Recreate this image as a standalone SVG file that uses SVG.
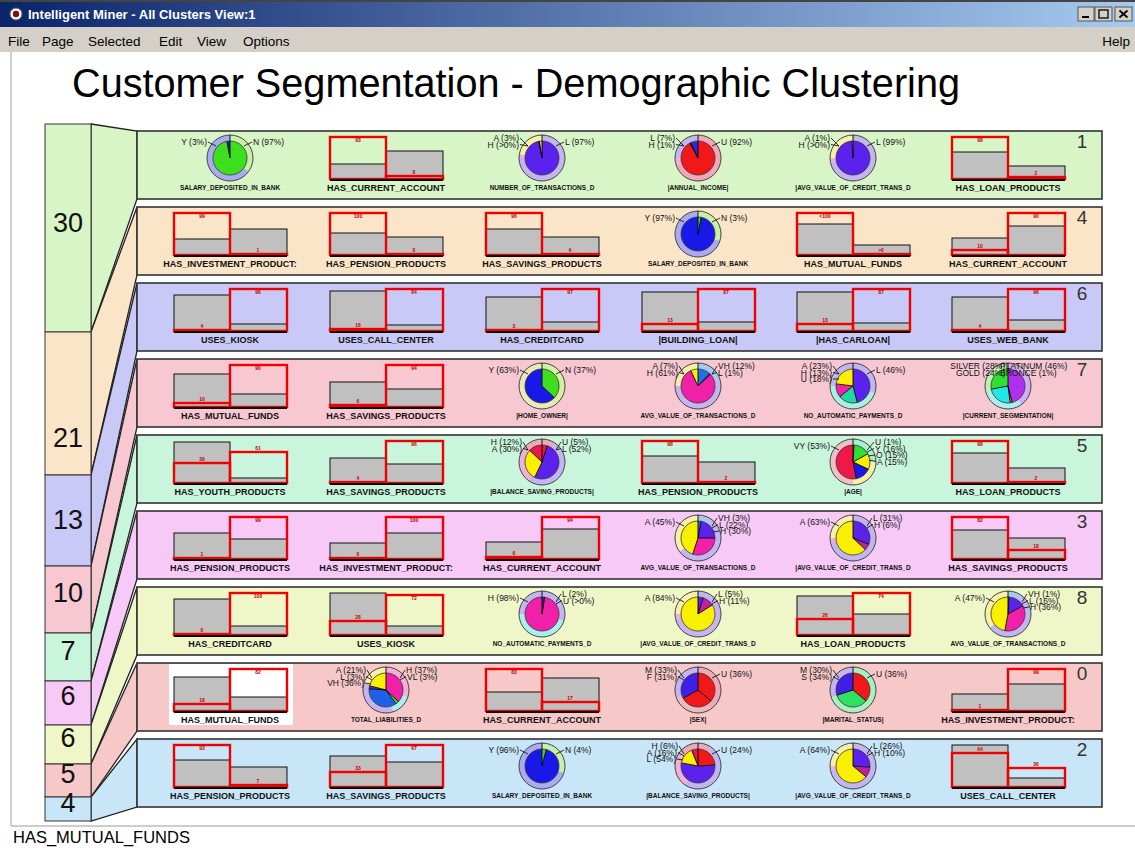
<svg xmlns="http://www.w3.org/2000/svg" xmlns:xlink="http://www.w3.org/1999/xlink" width="1135" height="848" viewBox="0 0 1135 848">
<defs>
<linearGradient id="tb" x1="0" y1="0" x2="1" y2="0"><stop offset="0" stop-color="#0a246a"/><stop offset="1" stop-color="#a6caf0"/></linearGradient>
<g id="po"><circle r="23" fill="none" stroke="#444" stroke-width="1"/><circle r="17" fill="none" stroke="#333" stroke-width="0.8"/><path d="M0 0V-23" stroke="#000" stroke-width="0.9"/></g>
<style>
.g{fill:#c0c0c0;stroke:#111;stroke-width:1}
.r{fill:none;stroke:#ee0000;stroke-width:2.4}
.bs{stroke:#000;stroke-width:2}
.rn{font:bold 5px "Liberation Sans",sans-serif;fill:#c00000;text-anchor:middle}
.bl{font:bold 9px "Liberation Sans",sans-serif;text-anchor:middle;fill:#111}
.pl{font:bold 6.5px "Liberation Sans",sans-serif;text-anchor:middle;fill:#111}
.vl{font:8.5px "Liberation Sans",sans-serif;fill:#111}
.e{text-anchor:end}
.rg{fill:none;stroke-width:6}
.in{fill:none;stroke-width:17}
.dv{stroke:#000;stroke-width:0.8}
.ld{fill:none;stroke:#000;stroke-width:0.8}
.cn{font:19px "Liberation Sans",sans-serif;fill:#333;text-anchor:middle}
.bn{font:27px "Liberation Sans",sans-serif;fill:#111;text-anchor:middle}
.mn{font:13.5px "Liberation Sans",sans-serif;fill:#000}
.tp{stroke:#222;stroke-width:1.3}
.pn{stroke:#333;stroke-width:1.6}
.bx{stroke:#333;stroke-width:1}
</style>
</defs>
<rect width="1135" height="848" fill="#fff"/>
<g id="titlebar">
<rect x="0" y="0" width="1135" height="2" fill="#444"/>
<rect x="0" y="2" width="1135" height="25" fill="url(#tb)"/>
<circle cx="16" cy="14" r="6" fill="#fff" stroke="#666"/><circle cx="16" cy="14" r="3.2" fill="#7a1010"/>
<text x="28" y="19" style="font:bold 13px 'Liberation Sans',sans-serif;fill:#fff">Intelligent Miner - All Clusters View:1</text>
<g fill="#d4d0c8" stroke="#555" stroke-width="1">
<rect x="1078" y="7" width="16" height="14"/><rect x="1095" y="7" width="17" height="14"/><rect x="1115" y="7" width="17" height="14"/></g>
<path d="M1082 17H1089" stroke="#000" stroke-width="2"/>
<rect x="1099" y="10" width="9" height="8" fill="none" stroke="#000" stroke-width="1.3"/>
<path d="M1119.5 10.5L1127.5 17.5M1127.5 10.5L1119.5 17.5" stroke="#000" stroke-width="1.8"/>
</g>
<g id="menubar">
<rect x="0" y="27" width="1135" height="25" fill="#d4d0c8"/>
<text class="mn" x="8" y="46">File</text>
<text class="mn" x="42" y="46">Page</text>
<text class="mn" x="88" y="46">Selected</text>
<text class="mn" x="159" y="46">Edit</text>
<text class="mn" x="197" y="46">View</text>
<text class="mn" x="243" y="46">Options</text>
<text class="mn" x="1130" y="46" text-anchor="end">Help</text>
</g>
<path d="M11 52V826" stroke="#cfcfcf" stroke-width="2"/>
<path d="M11 826H1135" stroke="#bdbdbd" stroke-width="1.5"/>
<text x="13" y="843" style="font:16.5px 'Liberation Sans',sans-serif;fill:#000">HAS_MUTUAL_FUNDS</text>
<text x="72" y="97" textLength="888" lengthAdjust="spacingAndGlyphs" style="font:40px 'Liberation Sans',sans-serif;fill:#000">Customer Segmentation - Demographic Clustering</text>

<g id="connectors">
<polygon class="tp" fill="#d7f5c6" points="91,124 137,131 137,199 91,332"/>
<polygon class="tp" fill="#fbe5c8" points="91,332 137,207 137,275 91,475"/>
<polygon class="tp" fill="#c9c9f7" points="91,475 137,283 137,351 91,566"/>
<polygon class="tp" fill="#f7c8d2" points="91,566 137,359 137,427 91,633"/>
<polygon class="tp" fill="#c9f5dc" points="91,633 137,435 137,503 91,681"/>
<polygon class="tp" fill="#f6c9f6" points="91,681 137,511 137,579 91,725"/>
<polygon class="tp" fill="#eff7c8" points="91,725 137,587 137,655 91,764"/>
<polygon class="tp" fill="#f7c8c8" points="91,764 137,663 137,731 91,797"/>
<polygon class="tp" fill="#c8e6f7" points="91,797 137,739 137,807 91,821"/>
</g>

<g id="size-boxes">
<g id="s30"><rect class="bx" x="45" y="124" width="46" height="208" fill="#d7f5c6"/><text class="bn" x="68" y="232">30</text></g>
<g id="s21"><rect class="bx" x="45" y="332" width="46" height="143" fill="#fbe5c8"/><text class="bn" x="68" y="447">21</text></g>
<g id="s13"><rect class="bx" x="45" y="475" width="46" height="91" fill="#c9c9f7"/><text class="bn" x="68" y="529">13</text></g>
<g id="s10"><rect class="bx" x="45" y="566" width="46" height="67" fill="#f7c8d2"/><text class="bn" x="68" y="602">10</text></g>
<g id="s7"><rect class="bx" x="45" y="633" width="46" height="48" fill="#c9f5dc"/><text class="bn" x="68" y="660">7</text></g>
<g id="s6a"><rect class="bx" x="45" y="681" width="46" height="44" fill="#f6c9f6"/><text class="bn" x="68" y="705">6</text></g>
<g id="s6b"><rect class="bx" x="45" y="725" width="46" height="39" fill="#eff7c8"/><text class="bn" x="68" y="747">6</text></g>
<g id="s5"><rect class="bx" x="45" y="764" width="46" height="33" fill="#f7c8c8"/><text class="bn" x="68" y="783">5</text></g>
<g id="s4"><rect class="bx" x="45" y="797" width="46" height="24" fill="#c8e6f7"/><text class="bn" x="68" y="812">4</text></g>
</g>

<g id="panels">
<rect class="pn" x="137" y="131" width="965" height="68" fill="#d7f5c6"/><text class="cn" x="1082" y="148">1</text>
<rect class="pn" x="137" y="207" width="965" height="68" fill="#fbe5c8"/><text class="cn" x="1082" y="224">4</text>
<rect class="pn" x="137" y="283" width="965" height="68" fill="#c9c9f7"/><text class="cn" x="1082" y="300">6</text>
<rect class="pn" x="137" y="359" width="965" height="68" fill="#f7c8d2"/><text class="cn" x="1082" y="376">7</text>
<rect class="pn" x="137" y="435" width="965" height="68" fill="#c9f5dc"/><text class="cn" x="1082" y="452">5</text>
<rect class="pn" x="137" y="511" width="965" height="68" fill="#f6c9f6"/><text class="cn" x="1082" y="528">3</text>
<rect class="pn" x="137" y="587" width="965" height="68" fill="#eff7c8"/><text class="cn" x="1082" y="604">8</text>
<rect class="pn" x="137" y="663" width="965" height="68" fill="#f7c8c8"/><text class="cn" x="1082" y="680">0</text>
<rect class="pn" x="137" y="739" width="965" height="68" fill="#c8e6f7"/><text class="cn" x="1082" y="756">2</text>
<rect x="169" y="664" width="124" height="61" fill="#fff"/>
</g>

<g id="b1-2" transform="translate(330,179)"><rect class="g" y="-15" width="56" height="15"/><rect class="g" x="56" y="-28" width="57" height="28"/><rect class="r" y="-42" width="56" height="42"/><rect class="r" x="56" y="-3" width="57" height="3"/><path class="bs" d="M0 1H113"/><text class="rn" x="28" y="-37">93</text><text class="rn" x="84" y="-5">8</text><text class="bl" x="56" y="12">HAS_CURRENT_ACCOUNT</text></g>
<g id="b1-6" transform="translate(952,179)"><rect class="g" y="-27" width="56" height="27"/><rect class="g" x="56" y="-13" width="57" height="13"/><rect class="r" y="-42" width="56" height="42"/><rect class="r" x="56" y="-2" width="57" height="2"/><path class="bs" d="M0 1H113"/><text class="rn" x="28" y="-37">98</text><text class="rn" x="84" y="-4">2</text><text class="bl" x="56" y="12">HAS_LOAN_PRODUCTS</text></g>

<g id="b2-1" transform="translate(174,255)"><rect class="g" y="-16" width="56" height="16"/><rect class="g" x="56" y="-26" width="57" height="26"/><rect class="r" y="-42" width="56" height="42"/><rect class="r" x="56" y="-1" width="57" height="1"/><path class="bs" d="M0 1H113"/><text class="rn" x="28" y="-37">99</text><text class="rn" x="84" y="-3">1</text><text class="bl" x="56" y="12">HAS_INVESTMENT_PRODUCT:</text></g>
<g id="b2-2" transform="translate(330,255)"><rect class="g" y="-22" width="56" height="22"/><rect class="g" x="56" y="-18" width="57" height="18"/><rect class="r" y="-42" width="56" height="42"/><rect class="r" x="56" y="-1" width="57" height="1"/><path class="bs" d="M0 1H113"/><text class="rn" x="28" y="-37">100</text><text class="rn" x="84" y="-3">0</text><text class="bl" x="56" y="12">HAS_PENSION_PRODUCTS</text></g>
<g id="b2-3" transform="translate(486,255)"><rect class="g" y="-26" width="56" height="26"/><rect class="g" x="56" y="-18" width="57" height="18"/><rect class="r" y="-42" width="56" height="42"/><rect class="r" x="56" y="-1" width="57" height="1"/><path class="bs" d="M0 1H113"/><text class="rn" x="28" y="-37">96</text><text class="rn" x="84" y="-3">4</text><text class="bl" x="56" y="12">HAS_SAVINGS_PRODUCTS</text></g>
<g id="b2-5" transform="translate(797,255)"><rect class="g" y="-31" width="56" height="31"/><rect class="g" x="56" y="-10" width="57" height="10"/><rect class="r" y="-42" width="56" height="42"/><rect class="r" x="56" y="-1" width="57" height="1"/><path class="bs" d="M0 1H113"/><text class="rn" x="28" y="-37">&lt;100</text><text class="rn" x="84" y="-3">&gt;0</text><text class="bl" x="56" y="12">HAS_MUTUAL_FUNDS</text></g>
<g id="b2-6" transform="translate(952,255)"><rect class="g" y="-17" width="56" height="17"/><rect class="g" x="56" y="-29" width="57" height="29"/><rect class="r" y="-5" width="56" height="5"/><rect class="r" x="56" y="-42" width="57" height="42"/><path class="bs" d="M0 1H113"/><text class="rn" x="28" y="-7">10</text><text class="rn" x="84" y="-37">90</text><text class="bl" x="56" y="12">HAS_CURRENT_ACCOUNT</text></g>

<g id="b3-1" transform="translate(174,331)"><rect class="g" y="-36" width="56" height="36"/><rect class="g" x="56" y="-7" width="57" height="7"/><rect class="r" y="-1" width="56" height="1"/><rect class="r" x="56" y="-42" width="57" height="42"/><path class="bs" d="M0 1H113"/><text class="rn" x="28" y="-3">4</text><text class="rn" x="84" y="-37">96</text><text class="bl" x="56" y="12">USES_KIOSK</text></g>
<g id="b3-2" transform="translate(330,331)"><rect class="g" y="-40" width="56" height="40"/><rect class="g" x="56" y="-6" width="57" height="6"/><rect class="r" y="-2" width="56" height="2"/><rect class="r" x="56" y="-42" width="57" height="42"/><path class="bs" d="M0 1H113"/><text class="rn" x="28" y="-4">16</text><text class="rn" x="84" y="-37">84</text><text class="bl" x="56" y="12">USES_CALL_CENTER</text></g>
<g id="b3-3" transform="translate(486,331)"><rect class="g" y="-34" width="56" height="34"/><rect class="g" x="56" y="-9" width="57" height="9"/><rect class="r" y="-1" width="56" height="1"/><rect class="r" x="56" y="-42" width="57" height="42"/><path class="bs" d="M0 1H113"/><text class="rn" x="28" y="-3">3</text><text class="rn" x="84" y="-37">97</text><text class="bl" x="56" y="12">HAS_CREDITCARD</text></g>
<g id="b3-4" transform="translate(642,331)"><rect class="g" y="-39" width="56" height="39"/><rect class="g" x="56" y="-9" width="57" height="9"/><rect class="r" y="-7" width="56" height="7"/><rect class="r" x="56" y="-42" width="57" height="42"/><path class="bs" d="M0 1H113"/><text class="rn" x="28" y="-9">13</text><text class="rn" x="84" y="-37">87</text><text class="bl" x="56" y="12">|BUILDING_LOAN|</text></g>
<g id="b3-5" transform="translate(797,331)"><rect class="g" y="-39" width="56" height="39"/><rect class="g" x="56" y="-8" width="57" height="8"/><rect class="r" y="-7" width="56" height="7"/><rect class="r" x="56" y="-42" width="57" height="42"/><path class="bs" d="M0 1H113"/><text class="rn" x="28" y="-9">13</text><text class="rn" x="84" y="-37">87</text><text class="bl" x="56" y="12">|HAS_CARLOAN|</text></g>
<g id="b3-6" transform="translate(952,331)"><rect class="g" y="-34" width="56" height="34"/><rect class="g" x="56" y="-11" width="57" height="11"/><rect class="r" y="-1" width="56" height="1"/><rect class="r" x="56" y="-42" width="57" height="42"/><path class="bs" d="M0 1H113"/><text class="rn" x="28" y="-3">4</text><text class="rn" x="84" y="-37">96</text><text class="bl" x="56" y="12">USES_WEB_BANK</text></g>

<g id="b4-1" transform="translate(174,407)"><rect class="g" y="-33" width="56" height="33"/><rect class="g" x="56" y="-13" width="57" height="13"/><rect class="r" y="-4" width="56" height="4"/><rect class="r" x="56" y="-42" width="57" height="42"/><path class="bs" d="M0 1H113"/><text class="rn" x="28" y="-6">10</text><text class="rn" x="84" y="-37">90</text><text class="bl" x="56" y="12">HAS_MUTUAL_FUNDS</text></g>
<g id="b4-2" transform="translate(330,407)"><rect class="g" y="-25" width="56" height="25"/><rect class="g" x="56" y="-18" width="57" height="18"/><rect class="r" y="-2" width="56" height="2"/><rect class="r" x="56" y="-42" width="57" height="42"/><path class="bs" d="M0 1H113"/><text class="rn" x="28" y="-4">6</text><text class="rn" x="84" y="-37">94</text><text class="bl" x="56" y="12">HAS_SAVINGS_PRODUCTS</text></g>

<g id="b5-1" transform="translate(174,483)"><rect class="g" y="-41" width="56" height="41"/><rect class="g" x="56" y="-5" width="57" height="5"/><rect class="r" y="-20" width="56" height="20"/><rect class="r" x="56" y="-31" width="57" height="31"/><path class="bs" d="M0 1H113"/><text class="rn" x="28" y="-22">39</text><text class="rn" x="84" y="-33">61</text><text class="bl" x="56" y="12">HAS_YOUTH_PRODUCTS</text></g>
<g id="b5-2" transform="translate(330,483)"><rect class="g" y="-25" width="56" height="25"/><rect class="g" x="56" y="-19" width="57" height="19"/><rect class="r" y="-1" width="56" height="1"/><rect class="r" x="56" y="-42" width="57" height="42"/><path class="bs" d="M0 1H113"/><text class="rn" x="28" y="-3">4</text><text class="rn" x="84" y="-37">96</text><text class="bl" x="56" y="12">HAS_SAVINGS_PRODUCTS</text></g>
<g id="b5-4" transform="translate(642,483)"><rect class="g" y="-27" width="56" height="27"/><rect class="g" x="56" y="-21" width="57" height="21"/><rect class="r" y="-42" width="56" height="42"/><rect class="r" x="56" y="-1" width="57" height="1"/><path class="bs" d="M0 1H113"/><text class="rn" x="28" y="-37">98</text><text class="rn" x="84" y="-3">2</text><text class="bl" x="56" y="12">HAS_PENSION_PRODUCTS</text></g>
<g id="b5-6" transform="translate(952,483)"><rect class="g" y="-30" width="56" height="30"/><rect class="g" x="56" y="-15" width="57" height="15"/><rect class="r" y="-42" width="56" height="42"/><rect class="r" x="56" y="-1" width="57" height="1"/><path class="bs" d="M0 1H113"/><text class="rn" x="28" y="-37">98</text><text class="rn" x="84" y="-3">2</text><text class="bl" x="56" y="12">HAS_LOAN_PRODUCTS</text></g>

<g id="b6-1" transform="translate(174,559)"><rect class="g" y="-26" width="56" height="26"/><rect class="g" x="56" y="-20" width="57" height="20"/><rect class="r" y="-1" width="56" height="1"/><rect class="r" x="56" y="-42" width="57" height="42"/><path class="bs" d="M0 1H113"/><text class="rn" x="28" y="-3">1</text><text class="rn" x="84" y="-37">99</text><text class="bl" x="56" y="12">HAS_PENSION_PRODUCTS</text></g>
<g id="b6-2" transform="translate(330,559)"><rect class="g" y="-16" width="56" height="16"/><rect class="g" x="56" y="-26" width="57" height="26"/><rect class="r" y="-1" width="56" height="1"/><rect class="r" x="56" y="-42" width="57" height="42"/><path class="bs" d="M0 1H113"/><text class="rn" x="28" y="-3">0</text><text class="rn" x="84" y="-37">100</text><text class="bl" x="56" y="12">HAS_INVESTMENT_PRODUCT:</text></g>
<g id="b6-3" transform="translate(486,559)"><rect class="g" y="-17" width="56" height="17"/><rect class="g" x="56" y="-30" width="57" height="30"/><rect class="r" y="-2" width="56" height="2"/><rect class="r" x="56" y="-42" width="57" height="42"/><path class="bs" d="M0 1H113"/><text class="rn" x="28" y="-4">6</text><text class="rn" x="84" y="-37">94</text><text class="bl" x="56" y="12">HAS_CURRENT_ACCOUNT</text></g>
<g id="b6-6" transform="translate(952,559)"><rect class="g" y="-29" width="56" height="29"/><rect class="g" x="56" y="-21" width="57" height="21"/><rect class="r" y="-42" width="56" height="42"/><rect class="r" x="56" y="-9" width="57" height="9"/><path class="bs" d="M0 1H113"/><text class="rn" x="28" y="-37">82</text><text class="rn" x="84" y="-11">18</text><text class="bl" x="56" y="12">HAS_SAVINGS_PRODUCTS</text></g>

<g id="b7-1" transform="translate(174,635)"><rect class="g" y="-36" width="56" height="36"/><rect class="g" x="56" y="-9" width="57" height="9"/><rect class="r" y="-1" width="56" height="1"/><rect class="r" x="56" y="-42" width="57" height="42"/><path class="bs" d="M0 1H113"/><text class="rn" x="28" y="-3">0</text><text class="rn" x="84" y="-37">100</text><text class="bl" x="56" y="12">HAS_CREDITCARD</text></g>
<g id="b7-2" transform="translate(330,635)"><rect class="g" y="-42" width="56" height="42"/><rect class="g" x="56" y="-9" width="57" height="9"/><rect class="r" y="-14" width="56" height="14"/><rect class="r" x="56" y="-40" width="57" height="40"/><path class="bs" d="M0 1H113"/><text class="rn" x="28" y="-16">28</text><text class="rn" x="84" y="-35">72</text><text class="bl" x="56" y="12">USES_KIOSK</text></g>
<g id="b7-5" transform="translate(797,635)"><rect class="g" y="-39" width="56" height="39"/><rect class="g" x="56" y="-21" width="57" height="21"/><rect class="r" y="-16" width="56" height="16"/><rect class="r" x="56" y="-42" width="57" height="42"/><path class="bs" d="M0 1H113"/><text class="rn" x="28" y="-18">26</text><text class="rn" x="84" y="-37">74</text><text class="bl" x="56" y="12">HAS_LOAN_PRODUCTS</text></g>

<g id="b8-1" transform="translate(174,711)"><rect class="g" y="-34" width="56" height="34"/><rect class="g" x="56" y="-14" width="57" height="14"/><rect class="r" y="-7" width="56" height="7"/><rect class="r" x="56" y="-42" width="57" height="42"/><path class="bs" d="M0 1H113"/><text class="rn" x="28" y="-9">18</text><text class="rn" x="84" y="-37">82</text><text class="bl" x="56" y="12">HAS_MUTUAL_FUNDS</text></g>
<g id="b8-3" transform="translate(486,711)"><rect class="g" y="-19" width="56" height="19"/><rect class="g" x="56" y="-33" width="57" height="33"/><rect class="r" y="-42" width="56" height="42"/><rect class="r" x="56" y="-9" width="57" height="9"/><path class="bs" d="M0 1H113"/><text class="rn" x="28" y="-37">83</text><text class="rn" x="84" y="-11">17</text><text class="bl" x="56" y="12">HAS_CURRENT_ACCOUNT</text></g>
<g id="b8-6" transform="translate(952,711)"><rect class="g" y="-17" width="56" height="17"/><rect class="g" x="56" y="-27" width="57" height="27"/><rect class="r" y="-1" width="56" height="1"/><rect class="r" x="56" y="-42" width="57" height="42"/><path class="bs" d="M0 1H113"/><text class="rn" x="28" y="-3">1</text><text class="rn" x="84" y="-37">99</text><text class="bl" x="56" y="12">HAS_INVESTMENT_PRODUCT:</text></g>

<g id="b9-1" transform="translate(174,787)"><rect class="g" y="-27" width="56" height="27"/><rect class="g" x="56" y="-20" width="57" height="20"/><rect class="r" y="-42" width="56" height="42"/><rect class="r" x="56" y="-2" width="57" height="2"/><path class="bs" d="M0 1H113"/><text class="rn" x="28" y="-37">93</text><text class="rn" x="84" y="-4">7</text><text class="bl" x="56" y="12">HAS_PENSION_PRODUCTS</text></g>
<g id="b9-2" transform="translate(330,787)"><rect class="g" y="-31" width="56" height="31"/><rect class="g" x="56" y="-25" width="57" height="25"/><rect class="r" y="-15" width="56" height="15"/><rect class="r" x="56" y="-42" width="57" height="42"/><path class="bs" d="M0 1H113"/><text class="rn" x="28" y="-17">33</text><text class="rn" x="84" y="-37">67</text><text class="bl" x="56" y="12">HAS_SAVINGS_PRODUCTS</text></g>
<g id="b9-6" transform="translate(952,787)"><rect class="g" y="-42" width="56" height="42"/><rect class="g" x="56" y="-9" width="57" height="9"/><rect class="r" y="-34" width="56" height="34"/><rect class="r" x="56" y="-19" width="57" height="19"/><path class="bs" d="M0 1H113"/><text class="rn" x="28" y="-36">64</text><text class="rn" x="84" y="-21">36</text><text class="bl" x="56" y="12">USES_CALL_CENTER</text></g>

<g id="p1-1" transform="translate(230,158)">
<g transform="rotate(-90)"><circle r="20" class="rg" pathLength="100" stroke="#c8f0a8" stroke-dasharray="35 100"/><circle r="20" class="rg" pathLength="100" stroke="#aaaaf0" stroke-dasharray="65 100" stroke-dashoffset="-35"/><circle r="8.5" class="in" pathLength="100" stroke="#3ee01e" stroke-dasharray="97 100"/><circle r="8.5" class="in" pathLength="100" stroke="#1818e8" stroke-dasharray="3 100" stroke-dashoffset="-97"/></g>
<use href="#po"/><path class="dv" d="M0 0V-17" transform="rotate(349.2)"/>
<text class="vl e" x="-23" y="-13">Y (3%)</text><text class="vl" x="23" y="-13">N (97%)</text>
<path class="ld" d="M-22 -16L-14 -12M22 -16L14 -12"/>
<text class="pl" y="32">SALARY_DEPOSITED_IN_BANK</text></g>

<g id="p1-3" transform="translate(542,158)">
<g transform="rotate(-90)"><circle r="20" class="rg" pathLength="100" stroke="#c4b4f0" stroke-dasharray="75 100"/><circle r="20" class="rg" pathLength="100" stroke="#f0b0d8" stroke-dasharray="3 100" stroke-dashoffset="-75"/><circle r="20" class="rg" pathLength="100" stroke="#f8f0a8" stroke-dasharray="22 100" stroke-dashoffset="-78"/><circle r="8.5" class="in" pathLength="100" stroke="#5a22ec" stroke-dasharray="97 100"/><circle r="8.5" class="in" pathLength="100" stroke="#f020a0" stroke-dasharray="0.5 100" stroke-dashoffset="-97"/><circle r="8.5" class="in" pathLength="100" stroke="#f8f000" stroke-dasharray="2.5 100" stroke-dashoffset="-97.5"/></g>
<use href="#po"/><path class="dv" d="M0 0V-17" transform="rotate(349.2)"/><path class="dv" d="M0 0V-17" transform="rotate(351)"/>
<text class="vl e" x="-23" y="-17">A (3%)</text><text class="vl e" x="-23" y="-10.5">H (&gt;0%)</text><text class="vl" x="23" y="-13">L (97%)</text>
<path class="ld" d="M-22 -20L-14 -12M-22 -13.5L-14 -12M22 -16L14 -12"/>
<text class="pl" y="32">NUMBER_OF_TRANSACTIONS_D</text></g>

<g id="p1-4" transform="translate(698,158)">
<g transform="rotate(-90)"><circle r="20" class="rg" pathLength="100" stroke="#f0a8b8" stroke-dasharray="70 100"/><circle r="20" class="rg" pathLength="100" stroke="#f0b0d8" stroke-dasharray="5 100" stroke-dashoffset="-70"/><circle r="20" class="rg" pathLength="100" stroke="#c4b4f0" stroke-dasharray="25 100" stroke-dashoffset="-75"/><circle r="8.5" class="in" pathLength="100" stroke="#f01818" stroke-dasharray="92 100"/><circle r="8.5" class="in" pathLength="100" stroke="#f020a0" stroke-dasharray="1 100" stroke-dashoffset="-92"/><circle r="8.5" class="in" pathLength="100" stroke="#2828e8" stroke-dasharray="7 100" stroke-dashoffset="-93"/></g>
<use href="#po"/><path class="dv" d="M0 0V-17" transform="rotate(331.2)"/><path class="dv" d="M0 0V-17" transform="rotate(334.8)"/>
<text class="vl e" x="-23" y="-17">L (7%)</text><text class="vl e" x="-23" y="-10.5">H (1%)</text><text class="vl" x="23" y="-13">U (92%)</text>
<path class="ld" d="M-22 -20L-14 -12M-22 -13.5L-14 -12M22 -16L14 -12"/>
<text class="pl" y="32">|ANNUAL_INCOME|</text></g>

<g id="p1-5" transform="translate(853,158)">
<g transform="rotate(-90)"><circle r="20" class="rg" pathLength="100" stroke="#c4b4f0" stroke-dasharray="72 100"/><circle r="20" class="rg" pathLength="100" stroke="#f0b0d8" stroke-dasharray="3 100" stroke-dashoffset="-72"/><circle r="20" class="rg" pathLength="100" stroke="#f8f0a8" stroke-dasharray="25 100" stroke-dashoffset="-75"/><circle r="8.5" class="in" pathLength="100" stroke="#5a22ec" stroke-dasharray="99 100"/><circle r="8.5" class="in" pathLength="100" stroke="#f8f000" stroke-dasharray="1 100" stroke-dashoffset="-99"/></g>
<use href="#po"/><path class="dv" d="M0 0V-17" transform="rotate(356.4)"/>
<text class="vl e" x="-23" y="-17">A (1%)</text><text class="vl e" x="-23" y="-10.5">H (&gt;0%)</text><text class="vl" x="23" y="-13">L (99%)</text>
<path class="ld" d="M-22 -20L-14 -12M-22 -13.5L-14 -12M22 -16L14 -12"/>
<text class="pl" y="32">|AVG_VALUE_OF_CREDIT_TRANS_D</text></g>

<g id="p2-4" transform="translate(698,234)">
<g transform="rotate(-90)"><circle r="20" class="rg" pathLength="100" stroke="#c8f0a8" stroke-dasharray="30 100"/><circle r="20" class="rg" pathLength="100" stroke="#aaaaf0" stroke-dasharray="70 100" stroke-dashoffset="-30"/><circle r="8.5" class="in" pathLength="100" stroke="#3ee01e" stroke-dasharray="3 100"/><circle r="8.5" class="in" pathLength="100" stroke="#1818e8" stroke-dasharray="97 100" stroke-dashoffset="-3"/></g>
<use href="#po"/><path class="dv" d="M0 0V-17" transform="rotate(10.8)"/>
<text class="vl e" x="-23" y="-13">Y (97%)</text><text class="vl" x="23" y="-13">N (3%)</text>
<path class="ld" d="M-22 -16L-14 -12M22 -16L14 -12"/>
<text class="pl" y="32">SALARY_DEPOSITED_IN_BANK</text></g>

<g id="p4-3" transform="translate(542,386)">
<g transform="rotate(-90)"><circle r="20" class="rg" pathLength="100" stroke="#d4f0a0" stroke-dasharray="40 100"/><circle r="20" class="rg" pathLength="100" stroke="#e8ecb4" stroke-dasharray="60 100" stroke-dashoffset="-40"/><circle r="8.5" class="in" pathLength="100" stroke="#3ee01e" stroke-dasharray="37 100"/><circle r="8.5" class="in" pathLength="100" stroke="#1818e8" stroke-dasharray="63 100" stroke-dashoffset="-37"/></g>
<use href="#po"/><path class="dv" d="M0 0V-17" transform="rotate(133.2)"/>
<text class="vl e" x="-23" y="-13">Y (63%)</text><text class="vl" x="23" y="-13">N (37%)</text>
<path class="ld" d="M-22 -16L-14 -12M22 -16L14 -12"/>
<text class="pl" y="32">|HOME_OWNER|</text></g>

<g id="p4-4" transform="translate(698,386)">
<g transform="rotate(-90)"><circle r="20" class="rg" pathLength="100" stroke="#a8c8f0" stroke-dasharray="20 100"/><circle r="20" class="rg" pathLength="100" stroke="#c4b4f0" stroke-dasharray="55 100" stroke-dashoffset="-20"/><circle r="20" class="rg" pathLength="100" stroke="#f8f0a8" stroke-dasharray="25 100" stroke-dashoffset="-75"/><circle r="8.5" class="in" pathLength="100" stroke="#2070e8" stroke-dasharray="12 100"/><circle r="8.5" class="in" pathLength="100" stroke="#5a22ec" stroke-dasharray="1 100" stroke-dashoffset="-12"/><circle r="8.5" class="in" pathLength="100" stroke="#f020a8" stroke-dasharray="80 100" stroke-dashoffset="-13"/><circle r="8.5" class="in" pathLength="100" stroke="#f8f000" stroke-dasharray="7 100" stroke-dashoffset="-93"/></g>
<use href="#po"/><path class="dv" d="M0 0V-17" transform="rotate(43.2)"/><path class="dv" d="M0 0V-17" transform="rotate(46.8)"/><path class="dv" d="M0 0V-17" transform="rotate(334.8)"/>
<text class="vl e" x="-20" y="-17">A (7%)</text><text class="vl e" x="-20" y="-10.5">H (61%)</text><text class="vl" x="20" y="-17">VH (12%)</text><text class="vl" x="20" y="-10.5">L (1%)</text>
<path class="ld" d="M-19 -20L-14 -12M-19 -13.5L-14 -12M19 -20L14 -12M19 -13.5L14 -12"/>
<text class="pl" y="32">AVG_VALUE_OF_TRANSACTIONS_D</text></g>

<g id="p4-5" transform="translate(853,386)">
<g transform="rotate(-90)"><circle r="20" class="rg" pathLength="100" stroke="#c4b4f0" stroke-dasharray="30 100"/><circle r="20" class="rg" pathLength="100" stroke="#a8f0e0" stroke-dasharray="45 100" stroke-dashoffset="-30"/><circle r="20" class="rg" pathLength="100" stroke="#c4b4f0" stroke-dasharray="25 100" stroke-dashoffset="-75"/><circle r="8.5" class="in" pathLength="100" stroke="#5a22ec" stroke-dasharray="46 100"/><circle r="8.5" class="in" pathLength="100" stroke="#20d8a0" stroke-dasharray="18 100" stroke-dashoffset="-46"/><circle r="8.5" class="in" pathLength="100" stroke="#f020a8" stroke-dasharray="13 100" stroke-dashoffset="-64"/><circle r="8.5" class="in" pathLength="100" stroke="#f8f000" stroke-dasharray="23 100" stroke-dashoffset="-77"/></g>
<use href="#po"/><path class="dv" d="M0 0V-17" transform="rotate(165.6)"/><path class="dv" d="M0 0V-17" transform="rotate(230.4)"/><path class="dv" d="M0 0V-17" transform="rotate(277.2)"/>
<text class="vl e" x="-21" y="-17">A (23%)</text><text class="vl e" x="-21" y="-10.5">H (13%)</text><text class="vl e" x="-21" y="-4">U (18%)</text><text class="vl" x="23" y="-13">L (46%)</text>
<path class="ld" d="M-20 -20L-14 -12M-20 -13.5L-14 -12M-20 -7L-14 -7M22 -16L14 -12"/>
<text class="pl" y="32">NO_AUTOMATIC_PAYMENTS_D</text></g>

<g id="p4-6" transform="translate(1008,386)">
<g transform="rotate(-90)"><circle r="20" class="rg" pathLength="100" stroke="#d0b0f0" stroke-dasharray="40 100"/><circle r="20" class="rg" pathLength="100" stroke="#a8f0f0" stroke-dasharray="30 100" stroke-dashoffset="-40"/><circle r="20" class="rg" pathLength="100" stroke="#c0f0b0" stroke-dasharray="30 100" stroke-dashoffset="-70"/><circle r="8.5" class="in" pathLength="100" stroke="#b030f0" stroke-dasharray="46 100"/><circle r="8.5" class="in" pathLength="100" stroke="#f07010" stroke-dasharray="2 100" stroke-dashoffset="-46"/><circle r="8.5" class="in" pathLength="100" stroke="#20e8e8" stroke-dasharray="24 100" stroke-dashoffset="-48"/><circle r="8.5" class="in" pathLength="100" stroke="#30e030" stroke-dasharray="28 100" stroke-dashoffset="-72"/></g>
<use href="#po"/><path class="dv" d="M0 0V-17" transform="rotate(165.6)"/><path class="dv" d="M0 0V-17" transform="rotate(172.8)"/><path class="dv" d="M0 0V-17" transform="rotate(259.2)"/>
<text class="vl e" x="-3" y="-17">SILVER (28%)</text><text class="vl e" x="-3" y="-10.5">GOLD (24%)</text><text class="vl" x="-8" y="-17">PLATINUM (46%)</text><text class="vl" x="-8" y="-10.5">BRONCE (1%)</text>
<text class="pl" y="32">|CURRENT_SEGMENTATION|</text></g>

<g id="p5-3" transform="translate(542,462)">
<g transform="rotate(-90)"><circle r="20" class="rg" pathLength="100" stroke="#f0a8b8" stroke-dasharray="10 100"/><circle r="20" class="rg" pathLength="100" stroke="#c4b4f0" stroke-dasharray="50 100" stroke-dashoffset="-10"/><circle r="20" class="rg" pathLength="100" stroke="#f0b0d8" stroke-dasharray="25 100" stroke-dashoffset="-60"/><circle r="20" class="rg" pathLength="100" stroke="#f0a8b8" stroke-dasharray="15 100" stroke-dashoffset="-85"/><circle r="8.5" class="in" pathLength="100" stroke="#f01818" stroke-dasharray="5 100"/><circle r="8.5" class="in" pathLength="100" stroke="#5a22ec" stroke-dasharray="52 100" stroke-dashoffset="-5"/><circle r="8.5" class="in" pathLength="100" stroke="#f8f000" stroke-dasharray="30 100" stroke-dashoffset="-57"/><circle r="8.5" class="in" pathLength="100" stroke="#e81850" stroke-dasharray="13 100" stroke-dashoffset="-87"/></g>
<use href="#po"/><path class="dv" d="M0 0V-17" transform="rotate(18)"/><path class="dv" d="M0 0V-17" transform="rotate(205.2)"/><path class="dv" d="M0 0V-17" transform="rotate(313.2)"/>
<text class="vl e" x="-20" y="-17">H (12%)</text><text class="vl e" x="-20" y="-10.5">A (30%)</text><text class="vl" x="20" y="-17">U (5%)</text><text class="vl" x="20" y="-10.5">L (52%)</text>
<path class="ld" d="M-19 -20L-14 -12M-19 -13.5L-14 -12M19 -20L14 -12M19 -13.5L14 -12"/>
<text class="pl" y="32">|BALANCE_SAVING_PRODUCTS|</text></g>

<g id="p5-5" transform="translate(853,462)">
<g transform="rotate(-90)"><circle r="20" class="rg" pathLength="100" stroke="#a8f0d0" stroke-dasharray="25 100"/><circle r="20" class="rg" pathLength="100" stroke="#f8f0a8" stroke-dasharray="25 100" stroke-dashoffset="-25"/><circle r="20" class="rg" pathLength="100" stroke="#f0c0c8" stroke-dasharray="50 100" stroke-dashoffset="-50"/><circle r="8.5" class="in" pathLength="100" stroke="#2070e8" stroke-dasharray="1 100"/><circle r="8.5" class="in" pathLength="100" stroke="#30e030" stroke-dasharray="16 100" stroke-dashoffset="-1"/><circle r="8.5" class="in" pathLength="100" stroke="#f8f000" stroke-dasharray="15 100" stroke-dashoffset="-17"/><circle r="8.5" class="in" pathLength="100" stroke="#1818e8" stroke-dasharray="15 100" stroke-dashoffset="-32"/><circle r="8.5" class="in" pathLength="100" stroke="#f01848" stroke-dasharray="53 100" stroke-dashoffset="-47"/></g>
<use href="#po"/><path class="dv" d="M0 0V-17" transform="rotate(3.6)"/><path class="dv" d="M0 0V-17" transform="rotate(61.2)"/><path class="dv" d="M0 0V-17" transform="rotate(115.2)"/><path class="dv" d="M0 0V-17" transform="rotate(169.2)"/>
<text class="vl e" x="-23" y="-13">VY (53%)</text><text class="vl" x="22" y="-17">U (1%)</text><text class="vl" x="22" y="-10.5">Y (16%)</text><text class="vl" x="23" y="-4">O (15%)</text><text class="vl" x="24" y="2.5">A (15%)</text>
<path class="ld" d="M-22 -16L-14 -12M21 -20L14 -12M21 -13.5L14 -10M22 -7L15 -6M23 -0.5L16 -2"/>
<text class="pl" y="32">|AGE|</text></g>

<g id="p6-4" transform="translate(698,538)">
<g transform="rotate(-90)"><circle r="20" class="rg" pathLength="100" stroke="#a8c8f0" stroke-dasharray="10 100"/><circle r="20" class="rg" pathLength="100" stroke="#c4b4f0" stroke-dasharray="55 100" stroke-dashoffset="-10"/><circle r="20" class="rg" pathLength="100" stroke="#f8f0a8" stroke-dasharray="35 100" stroke-dashoffset="-65"/><circle r="8.5" class="in" pathLength="100" stroke="#2070e8" stroke-dasharray="3 100"/><circle r="8.5" class="in" pathLength="100" stroke="#5a22ec" stroke-dasharray="22 100" stroke-dashoffset="-3"/><circle r="8.5" class="in" pathLength="100" stroke="#f020a8" stroke-dasharray="30 100" stroke-dashoffset="-25"/><circle r="8.5" class="in" pathLength="100" stroke="#f8f000" stroke-dasharray="45 100" stroke-dashoffset="-55"/></g>
<use href="#po"/><path class="dv" d="M0 0V-17" transform="rotate(10.8)"/><path class="dv" d="M0 0V-17" transform="rotate(90)"/><path class="dv" d="M0 0V-17" transform="rotate(198)"/>
<text class="vl e" x="-23" y="-13">A (45%)</text><text class="vl" x="20" y="-17">VH (3%)</text><text class="vl" x="21" y="-10.5">L (22%)</text><text class="vl" x="22" y="-4">H (30%)</text>
<path class="ld" d="M-22 -16L-14 -12M19 -20L14 -12M20 -13.5L14 -10M21 -7L15 -6"/>
<text class="pl" y="32">AVG_VALUE_OF_TRANSACTIONS_D</text></g>

<g id="p6-5" transform="translate(853,538)">
<g transform="rotate(-90)"><circle r="20" class="rg" pathLength="100" stroke="#c4b4f0" stroke-dasharray="72 100"/><circle r="20" class="rg" pathLength="100" stroke="#f0b0d8" stroke-dasharray="3 100" stroke-dashoffset="-72"/><circle r="20" class="rg" pathLength="100" stroke="#f8f0a8" stroke-dasharray="25 100" stroke-dashoffset="-75"/><circle r="8.5" class="in" pathLength="100" stroke="#5a22ec" stroke-dasharray="31 100"/><circle r="8.5" class="in" pathLength="100" stroke="#c020a0" stroke-dasharray="6 100" stroke-dashoffset="-31"/><circle r="8.5" class="in" pathLength="100" stroke="#f8f000" stroke-dasharray="63 100" stroke-dashoffset="-37"/></g>
<use href="#po"/><path class="dv" d="M0 0V-17" transform="rotate(111.6)"/><path class="dv" d="M0 0V-17" transform="rotate(133.2)"/>
<text class="vl e" x="-23" y="-13">A (63%)</text><text class="vl" x="20" y="-17">L (31%)</text><text class="vl" x="21" y="-10.5">H (6%)</text>
<path class="ld" d="M-22 -16L-14 -12M19 -20L14 -12M20 -13.5L14 -10"/>
<text class="pl" y="32">|AVG_VALUE_OF_CREDIT_TRANS_D</text></g>

<g id="p7-3" transform="translate(542,614)">
<g transform="rotate(-90)"><circle r="20" class="rg" pathLength="100" stroke="#c4b4f0" stroke-dasharray="30 100"/><circle r="20" class="rg" pathLength="100" stroke="#a8f0f0" stroke-dasharray="45 100" stroke-dashoffset="-30"/><circle r="20" class="rg" pathLength="100" stroke="#c4b4f0" stroke-dasharray="25 100" stroke-dashoffset="-75"/><circle r="8.5" class="in" pathLength="100" stroke="#5a22ec" stroke-dasharray="2 100"/><circle r="8.5" class="in" pathLength="100" stroke="#20d8a0" stroke-dasharray="0.5 100" stroke-dashoffset="-2"/><circle r="8.5" class="in" pathLength="100" stroke="#f020a8" stroke-dasharray="97.5 100" stroke-dashoffset="-2.5"/></g>
<use href="#po"/><path class="dv" d="M0 0V-17" transform="rotate(7.2)"/><path class="dv" d="M0 0V-17" transform="rotate(9)"/>
<text class="vl e" x="-23" y="-13">H (98%)</text><text class="vl" x="20" y="-17">L (2%)</text><text class="vl" x="21" y="-10.5">U (&gt;0%)</text>
<path class="ld" d="M-22 -16L-14 -12M19 -20L14 -12M20 -13.5L14 -10"/>
<text class="pl" y="32">NO_AUTOMATIC_PAYMENTS_D</text></g>

<g id="p7-4" transform="translate(698,614)">
<g transform="rotate(-90)"><circle r="20" class="rg" pathLength="100" stroke="#c4b4f0" stroke-dasharray="72 100"/><circle r="20" class="rg" pathLength="100" stroke="#f0b0d8" stroke-dasharray="3 100" stroke-dashoffset="-72"/><circle r="20" class="rg" pathLength="100" stroke="#f8f0a8" stroke-dasharray="25 100" stroke-dashoffset="-75"/><circle r="8.5" class="in" pathLength="100" stroke="#5a22ec" stroke-dasharray="5 100"/><circle r="8.5" class="in" pathLength="100" stroke="#c020a0" stroke-dasharray="11 100" stroke-dashoffset="-5"/><circle r="8.5" class="in" pathLength="100" stroke="#f8f000" stroke-dasharray="84 100" stroke-dashoffset="-16"/></g>
<use href="#po"/><path class="dv" d="M0 0V-17" transform="rotate(18)"/><path class="dv" d="M0 0V-17" transform="rotate(57.6)"/>
<text class="vl e" x="-23" y="-13">A (84%)</text><text class="vl" x="20" y="-17">L (5%)</text><text class="vl" x="21" y="-10.5">H (11%)</text>
<path class="ld" d="M-22 -16L-14 -12M19 -20L14 -12M20 -13.5L14 -10"/>
<text class="pl" y="32">|AVG_VALUE_OF_CREDIT_TRANS_D</text></g>

<g id="p7-6" transform="translate(1008,614)">
<g transform="rotate(-90)"><circle r="20" class="rg" pathLength="100" stroke="#a8c8f0" stroke-dasharray="10 100"/><circle r="20" class="rg" pathLength="100" stroke="#c4b4f0" stroke-dasharray="55 100" stroke-dashoffset="-10"/><circle r="20" class="rg" pathLength="100" stroke="#f8f0a8" stroke-dasharray="35 100" stroke-dashoffset="-65"/><circle r="8.5" class="in" pathLength="100" stroke="#2070e8" stroke-dasharray="1 100"/><circle r="8.5" class="in" pathLength="100" stroke="#5a22ec" stroke-dasharray="16 100" stroke-dashoffset="-1"/><circle r="8.5" class="in" pathLength="100" stroke="#f020a8" stroke-dasharray="36 100" stroke-dashoffset="-17"/><circle r="8.5" class="in" pathLength="100" stroke="#f8f000" stroke-dasharray="47 100" stroke-dashoffset="-53"/></g>
<use href="#po"/><path class="dv" d="M0 0V-17" transform="rotate(3.6)"/><path class="dv" d="M0 0V-17" transform="rotate(61.2)"/><path class="dv" d="M0 0V-17" transform="rotate(190.8)"/>
<text class="vl e" x="-23" y="-13">A (47%)</text><text class="vl" x="20" y="-17">VH (1%)</text><text class="vl" x="21" y="-10.5">L (16%)</text><text class="vl" x="22" y="-4">H (36%)</text>
<path class="ld" d="M-22 -16L-14 -12M19 -20L14 -12M20 -13.5L14 -10M21 -7L15 -6"/>
<text class="pl" y="32">AVG_VALUE_OF_TRANSACTIONS_D</text></g>

<g id="p8-2" transform="translate(386,690)">
<g transform="rotate(-90)"><circle r="20" class="rg" pathLength="100" stroke="#f0b0d8" stroke-dasharray="30 100"/><circle r="20" class="rg" pathLength="100" stroke="#a8f0f0" stroke-dasharray="15 100" stroke-dashoffset="-30"/><circle r="20" class="rg" pathLength="100" stroke="#c4b4f0" stroke-dasharray="35 100" stroke-dashoffset="-45"/><circle r="20" class="rg" pathLength="100" stroke="#f8f0a8" stroke-dasharray="20 100" stroke-dashoffset="-80"/><circle r="8.5" class="in" pathLength="100" stroke="#f020a8" stroke-dasharray="37 100"/><circle r="8.5" class="in" pathLength="100" stroke="#30e030" stroke-dasharray="3 100" stroke-dashoffset="-37"/><circle r="8.5" class="in" pathLength="100" stroke="#2060e8" stroke-dasharray="36 100" stroke-dashoffset="-40"/><circle r="8.5" class="in" pathLength="100" stroke="#5a22ec" stroke-dasharray="3 100" stroke-dashoffset="-76"/><circle r="8.5" class="in" pathLength="100" stroke="#f8f000" stroke-dasharray="21 100" stroke-dashoffset="-79"/></g>
<use href="#po"/><path class="dv" d="M0 0V-17" transform="rotate(133.2)"/><path class="dv" d="M0 0V-17" transform="rotate(144)"/><path class="dv" d="M0 0V-17" transform="rotate(273.6)"/><path class="dv" d="M0 0V-17" transform="rotate(284.4)"/>
<text class="vl e" x="-20" y="-17">A (21%)</text><text class="vl e" x="-21" y="-10.5">L (3%)</text><text class="vl e" x="-22" y="-4">VH (36%)</text><text class="vl" x="20" y="-17">H (37%)</text><text class="vl" x="21" y="-10.5">VL (3%)</text>
<path class="ld" d="M-19 -20L-14 -12M-20 -13.5L-14 -10M-21 -7L-15 -6M19 -20L14 -12M20 -13.5L14 -10"/>
<text class="pl" y="32">TOTAL_LIABILITIES_D</text></g>

<g id="p8-4" transform="translate(698,690)">
<g transform="rotate(-90)"><circle r="20" class="rg" pathLength="100" stroke="#f0a8b8" stroke-dasharray="40 100"/><circle r="20" class="rg" pathLength="100" stroke="#f0b8c0" stroke-dasharray="30 100" stroke-dashoffset="-40"/><circle r="20" class="rg" pathLength="100" stroke="#c4b4f0" stroke-dasharray="30 100" stroke-dashoffset="-70"/><circle r="8.5" class="in" pathLength="100" stroke="#f01818" stroke-dasharray="67 100"/><circle r="8.5" class="in" pathLength="100" stroke="#4020e8" stroke-dasharray="33 100" stroke-dashoffset="-67"/></g>
<use href="#po"/><path class="dv" d="M0 0V-17" transform="rotate(129.6)"/><path class="dv" d="M0 0V-17" transform="rotate(241.2)"/>
<text class="vl e" x="-21" y="-17">M (33%)</text><text class="vl e" x="-21" y="-10.5">F (31%)</text><text class="vl" x="23" y="-13">U (36%)</text>
<path class="ld" d="M-20 -20L-14 -12M-20 -13.5L-14 -10M22 -16L14 -12"/>
<text class="pl" y="32">|SEX|</text></g>

<g id="p8-5" transform="translate(853,690)">
<g transform="rotate(-90)"><circle r="20" class="rg" pathLength="100" stroke="#a8f0c0" stroke-dasharray="70 100"/><circle r="20" class="rg" pathLength="100" stroke="#c4b4f0" stroke-dasharray="30 100" stroke-dashoffset="-70"/><circle r="8.5" class="in" pathLength="100" stroke="#f01818" stroke-dasharray="36 100"/><circle r="8.5" class="in" pathLength="100" stroke="#30e060" stroke-dasharray="34 100" stroke-dashoffset="-36"/><circle r="8.5" class="in" pathLength="100" stroke="#4020e8" stroke-dasharray="30 100" stroke-dashoffset="-70"/></g>
<use href="#po"/><path class="dv" d="M0 0V-17" transform="rotate(129.6)"/><path class="dv" d="M0 0V-17" transform="rotate(252)"/>
<text class="vl e" x="-21" y="-17">M (30%)</text><text class="vl e" x="-21" y="-10.5">S (34%)</text><text class="vl" x="23" y="-13">U (36%)</text>
<path class="ld" d="M-20 -20L-14 -12M-20 -13.5L-14 -10M22 -16L14 -12"/>
<text class="pl" y="32">|MARITAL_STATUS|</text></g>

<g id="p9-3" transform="translate(542,766)">
<g transform="rotate(-90)"><circle r="20" class="rg" pathLength="100" stroke="#c8f0a8" stroke-dasharray="30 100"/><circle r="20" class="rg" pathLength="100" stroke="#aaaaf0" stroke-dasharray="70 100" stroke-dashoffset="-30"/><circle r="8.5" class="in" pathLength="100" stroke="#3ee01e" stroke-dasharray="4 100"/><circle r="8.5" class="in" pathLength="100" stroke="#1818e8" stroke-dasharray="96 100" stroke-dashoffset="-4"/></g>
<use href="#po"/><path class="dv" d="M0 0V-17" transform="rotate(14.4)"/>
<text class="vl e" x="-23" y="-13">Y (96%)</text><text class="vl" x="23" y="-13">N (4%)</text>
<path class="ld" d="M-22 -16L-14 -12M22 -16L14 -12"/>
<text class="pl" y="32">SALARY_DEPOSITED_IN_BANK</text></g>

<g id="p9-4" transform="translate(698,766)">
<g transform="rotate(-90)"><circle r="20" class="rg" pathLength="100" stroke="#f0a8b8" stroke-dasharray="10 100"/><circle r="20" class="rg" pathLength="100" stroke="#c4b4f0" stroke-dasharray="50 100" stroke-dashoffset="-10"/><circle r="20" class="rg" pathLength="100" stroke="#f0b0d8" stroke-dasharray="25 100" stroke-dashoffset="-60"/><circle r="20" class="rg" pathLength="100" stroke="#f0a8b8" stroke-dasharray="15 100" stroke-dashoffset="-85"/><circle r="8.5" class="in" pathLength="100" stroke="#f01818" stroke-dasharray="24 100"/><circle r="8.5" class="in" pathLength="100" stroke="#5a22ec" stroke-dasharray="54 100" stroke-dashoffset="-24"/><circle r="8.5" class="in" pathLength="100" stroke="#f8f000" stroke-dasharray="16 100" stroke-dashoffset="-78"/><circle r="8.5" class="in" pathLength="100" stroke="#e81850" stroke-dasharray="6 100" stroke-dashoffset="-94"/></g>
<use href="#po"/><path class="dv" d="M0 0V-17" transform="rotate(86.4)"/><path class="dv" d="M0 0V-17" transform="rotate(280.8)"/><path class="dv" d="M0 0V-17" transform="rotate(338.4)"/>
<text class="vl e" x="-20" y="-17">H (6%)</text><text class="vl e" x="-21" y="-10.5">A (16%)</text><text class="vl e" x="-22" y="-4">L (54%)</text><text class="vl" x="23" y="-13">U (24%)</text>
<path class="ld" d="M-19 -20L-14 -12M-20 -13.5L-14 -10M-21 -7L-15 -6M22 -16L14 -12"/>
<text class="pl" y="32">|BALANCE_SAVING_PRODUCTS|</text></g>

<g id="p9-5" transform="translate(853,766)">
<g transform="rotate(-90)"><circle r="20" class="rg" pathLength="100" stroke="#c4b4f0" stroke-dasharray="72 100"/><circle r="20" class="rg" pathLength="100" stroke="#f0b0d8" stroke-dasharray="3 100" stroke-dashoffset="-72"/><circle r="20" class="rg" pathLength="100" stroke="#f8f0a8" stroke-dasharray="25 100" stroke-dashoffset="-75"/><circle r="8.5" class="in" pathLength="100" stroke="#5a22ec" stroke-dasharray="26 100"/><circle r="8.5" class="in" pathLength="100" stroke="#c020a0" stroke-dasharray="10 100" stroke-dashoffset="-26"/><circle r="8.5" class="in" pathLength="100" stroke="#f8f000" stroke-dasharray="64 100" stroke-dashoffset="-36"/></g>
<use href="#po"/><path class="dv" d="M0 0V-17" transform="rotate(93.6)"/><path class="dv" d="M0 0V-17" transform="rotate(129.6)"/>
<text class="vl e" x="-23" y="-13">A (64%)</text><text class="vl" x="20" y="-17">L (26%)</text><text class="vl" x="21" y="-10.5">H (10%)</text>
<path class="ld" d="M-22 -16L-14 -12M19 -20L14 -12M20 -13.5L14 -10"/>
<text class="pl" y="32">|AVG_VALUE_OF_CREDIT_TRANS_D</text></g>
</svg>
